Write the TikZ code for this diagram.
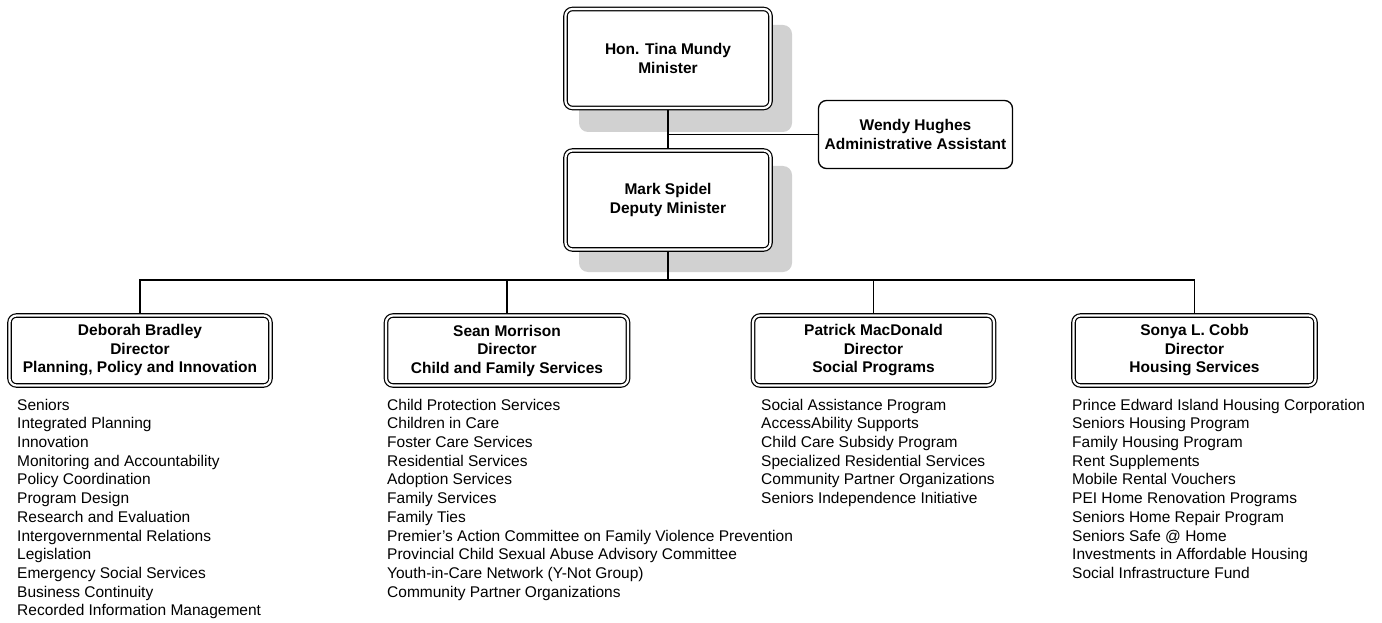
\documentclass[tikz,border=0pt]{standalone}
\usepackage{fontspec}
\setmainfont{Liberation Sans}
\usetikzlibrary{backgrounds}
\begin{document}
\begin{tikzpicture}[x=1pt,y=-1pt,
  boxfont/.style={font=\bfseries\fontsize{15.5}{18.5}\selectfont},
  dbox/.style={boxfont, draw=black, line width=1.2pt, double=white, double distance=2.2pt,
    rounded corners=7pt, fill=white, align=center, inner sep=0pt},
  sbox/.style={boxfont, draw=black, line width=1.3pt, rounded corners=8pt, fill=white,
    align=center, inner sep=0pt},
  shad/.style={fill=black!18, rounded corners=9pt},
  conn/.style={line width=1.2pt},
  item/.style={anchor=base west, inner sep=0pt, font=\fontsize{15.5}{18.5}\selectfont}]
\useasboundingbox (0,0) rectangle (1382,623);

% top boxes
\node[dbox, minimum width=205pt, minimum height=99pt] (min) at (668,58.5) {Hon. Tina Mundy\\Minister};
\node[dbox, minimum width=205pt, minimum height=99pt] (dep) at (668,200) {Mark Spidel\\Deputy Minister};
\node[sbox, minimum width=194pt, minimum height=68pt] (adm) at (915.5,134.5) {Wendy Hughes\\Administrative Assistant};

% directors
\node[dbox, minimum width=261pt, minimum height=70pt] (d1) at (140,350.5) {Deborah Bradley\\Director\\Planning, Policy and Innovation};
\node[dbox, minimum width=242pt, minimum height=70pt] (d2) at (507,350.5) {Sean Morrison\\Director\\Child and Family Services};
\node[dbox, minimum width=241pt, minimum height=70pt] (d3) at (873.5,350.5) {Patrick MacDonald\\Director\\Social Programs};
\node[dbox, minimum width=242pt, minimum height=70pt] (d4) at (1194.5,350.5) {Sonya L. Cobb\\Director\\Housing Services};

\begin{scope}[on background layer]
  \fill[shad] (579,25) rectangle (792,132);
  \fill[shad] (579,166) rectangle (792,272);
  \coordinate (bus) at (668,280);
  \draw[conn] (min.south) -- (dep.north);
  \draw[conn] (adm.west) -- (adm.west -| min.south);
  \draw[conn] (dep.south) -- (bus);
  \draw[conn] (d1.north) -- (d1.north |- bus) -- (d4.north |- bus) -- (d4.north);
  \draw[conn] (d2.north) -- (d2.north |- bus);
  \draw[conn] (d3.north) -- (d3.north |- bus);
\end{scope}

% lists
\foreach \t [count=\i] in {Seniors, Integrated Planning, Innovation, Monitoring and Accountability,
  Policy Coordination, Program Design, Research and Evaluation, Intergovernmental Relations,
  Legislation, Emergency Social Services, Business Continuity, Recorded Information Management}
  \node[item] (la\i) at (17,{410+18.72*(\i-1)}) {\t};

\foreach \t [count=\i] in {Child Protection Services, Children in Care, Foster Care Services,
  Residential Services, Adoption Services, Family Services, Family Ties,
  Premier’s Action Committee on Family Violence Prevention,
  Provincial Child Sexual Abuse Advisory Committee, Youth-in-Care Network (Y-Not Group),
  Community Partner Organizations}
  \node[item] (lb\i) at (387,{410+18.72*(\i-1)}) {\t};

\foreach \t [count=\i] in {Social Assistance Program, AccessAbility Supports,
  Child Care Subsidy Program, Specialized Residential Services,
  Community Partner Organizations, Seniors Independence Initiative}
  \node[item] (lc\i) at (761,{410+18.72*(\i-1)}) {\t};

\foreach \t [count=\i] in {Prince Edward Island Housing Corporation, Seniors Housing Program,
  Family Housing Program, Rent Supplements, Mobile Rental Vouchers,
  PEI Home Renovation Programs, Seniors Home Repair Program, Seniors Safe @ Home,
  Investments in Affordable Housing, Social Infrastructure Fund}
  \node[item] (ld\i) at (1072,{410+18.72*(\i-1)}) {\t};
\end{tikzpicture}
\end{document}
